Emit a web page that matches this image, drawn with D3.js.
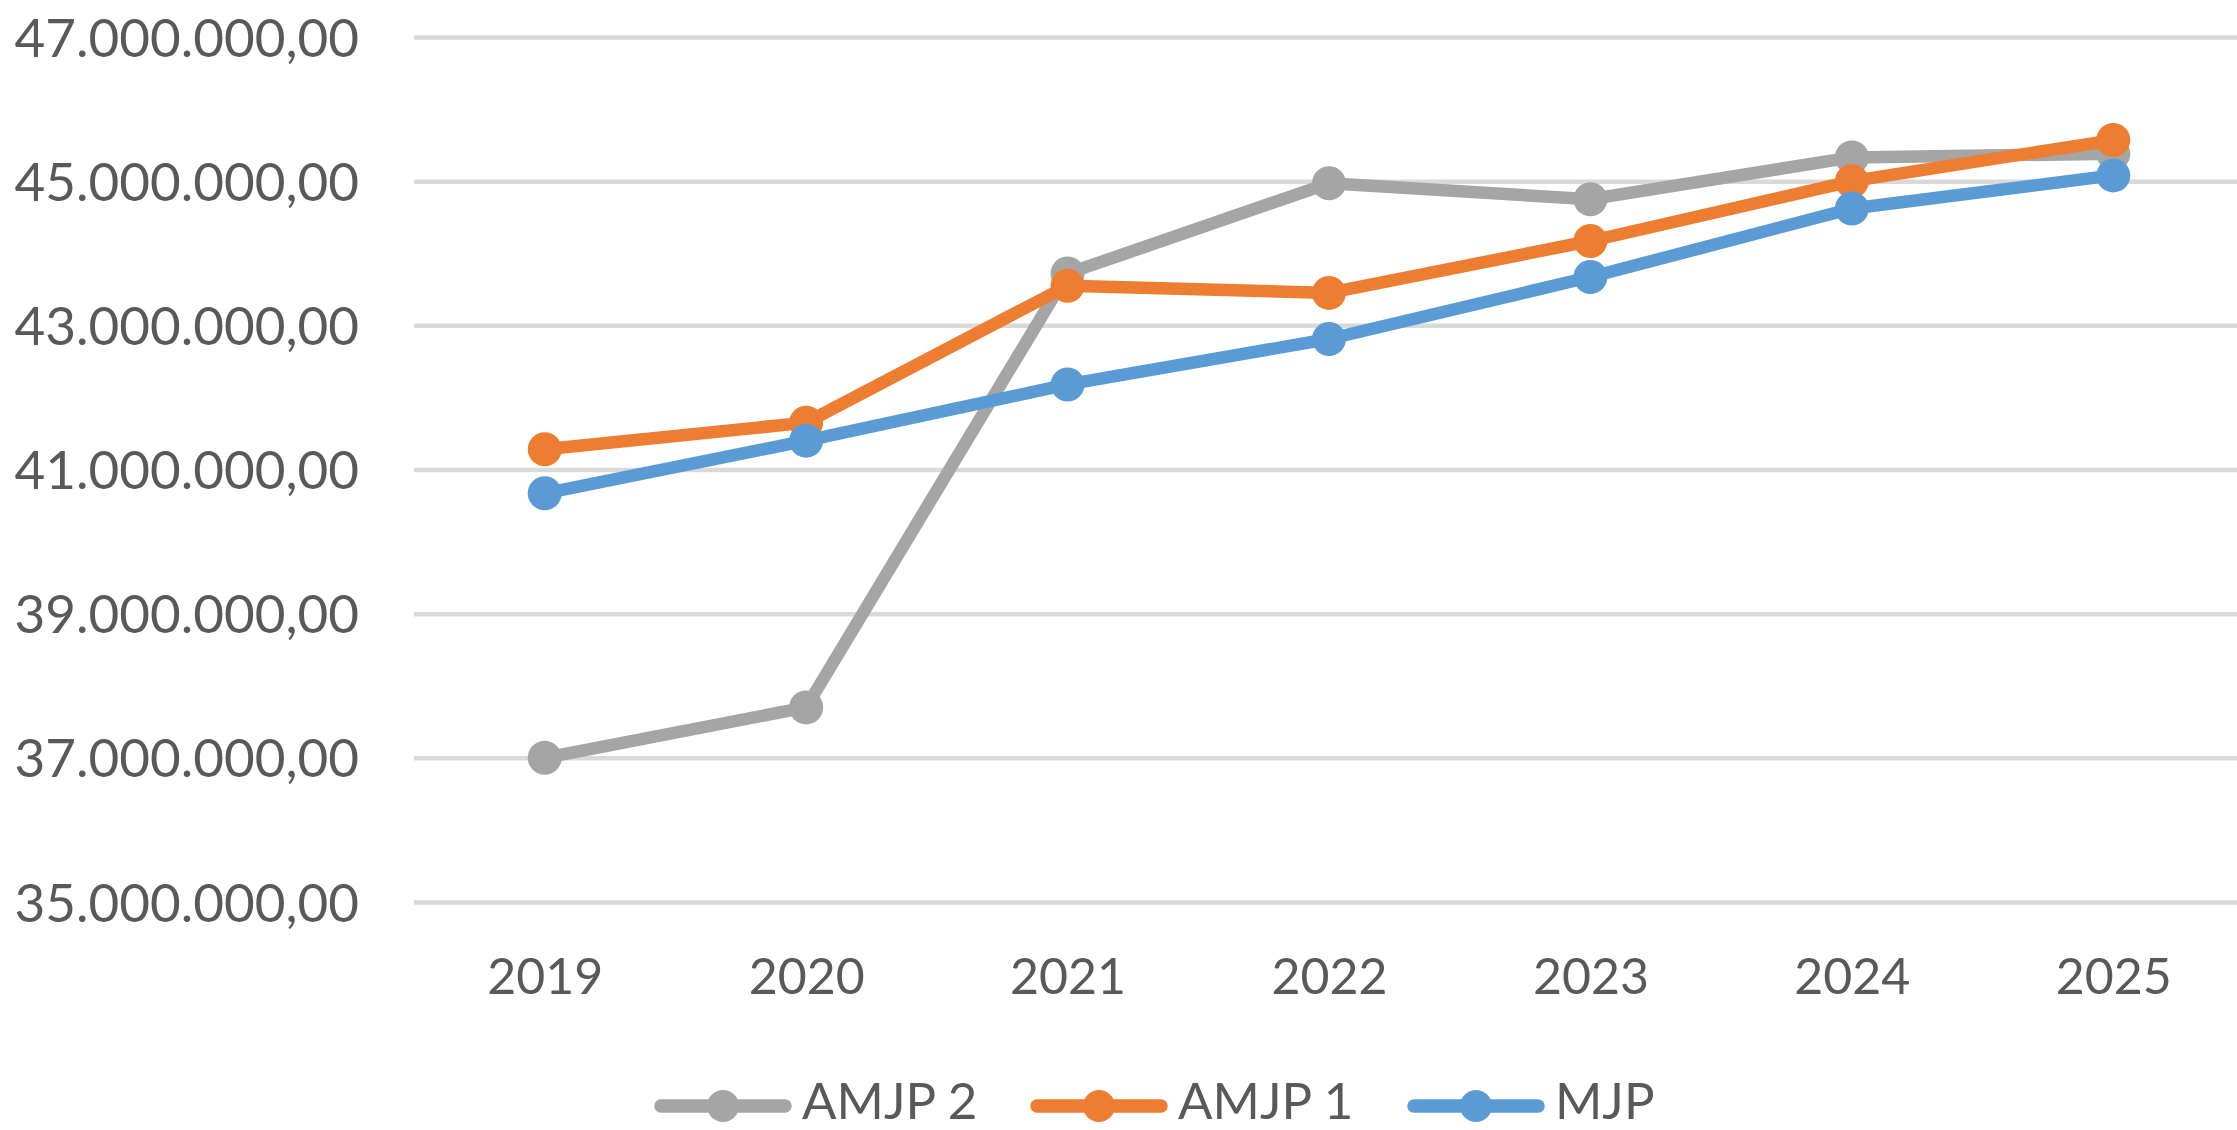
<!DOCTYPE html>
<html>
<head>
<meta charset="utf-8">
<script src="https://cdnjs.cloudflare.com/ajax/libs/d3/7.8.5/d3.min.js"></script>
<style>
  body { margin: 0; background: #fff; }
  .plot text { font-family: Lato, "Liberation Sans", sans-serif; fill: #595959; }
</style>
</head>
<body>
<div class="plot"></div>
<script>
// years on the x axis
var years = ["2019", "2020", "2021", "2022", "2023", "2024", "2025"];

// series values
var amjp2 = [37000000, 37700000, 43720000, 44970000, 44750000, 45330000, 45380000];
var amjp1 = [41280000, 41650000, 43550000, 43450000, 44170000, 45000000, 45570000];
var mjp   = [40670000, 41400000, 42180000, 42810000, 43670000, 44620000, 45080000];

var seriesNames  = ["AMJP 2", "AMJP 1", "MJP"];
var seriesColors = ["#A5A5A5", "#ED7D31", "#5B9BD5"];

var yTicks = [35000000, 37000000, 39000000, 41000000, 43000000, 45000000, 47000000];

var width = 2237,
    height = 1130,
    margin = {top: 37, right: -7, bottom: 228, left: 414};

var svg = d3.select(".plot")
  .append("svg")
  .attr("width", width)
  .attr("height", height);

var locale = d3.formatLocale({decimal: ",", thousands: ".", grouping: [3], currency: ["", ""]});
var fmt = locale.format(",.2f");

var x = d3.scalePoint()
  .domain(years)
  .range([margin.left, width - margin.right])
  .padding(0.5);

var y = d3.scaleLinear()
  .domain([35000000, 47000000])
  .range([height - margin.bottom, margin.top]);

// gridlines + y labels
var yAxis = svg.append("g")
  .attr("class", "grid")
  .attr("transform", "translate(" + margin.left + ",0)")
  .call(d3.axisLeft(y)
    .tickValues(yTicks)
    .tickSize(-(width - margin.left))
    .tickPadding(55)
    .tickFormat(fmt));

yAxis.select(".domain").remove();
yAxis.selectAll(".tick line")
  .style("stroke", "#D9D9D9")
  .style("stroke-width", 4.5);
yAxis.selectAll(".tick text")
  .style("font-size", "53px")
  .attr("dy", "0.36em");

// x labels
var xAxis = svg.append("g")
  .attr("transform", "translate(0," + y(35000000) + ")")
  .call(d3.axisBottom(x).tickSize(0).tickPadding(56));
xAxis.select(".domain").remove();
xAxis.selectAll(".tick text")
  .style("font-size", "50px");

var series = [amjp2, amjp1, mjp].map(function(vals, i) {
  return {
    name: seriesNames[i],
    color: seriesColors[i],
    values: vals.map(function(v, j) { return {year: years[j], value: v}; })
  };
});

var line = d3.line()
  .x(function(d) { return x(d.year); })
  .y(function(d) { return y(d.value); });

var s = svg.selectAll(".series")
  .data(series)
  .enter().append("g")
  .attr("class", "series");

s.append("path")
  .attr("d", function(d) { return line(d.values); })
  .style("fill", "none")
  .style("stroke", function(d) { return d.color; })
  .style("stroke-width", 12.5)
  .style("stroke-linejoin", "round")
  .style("stroke-linecap", "round");

s.selectAll("circle")
  .data(function(d) { return d.values.map(function(v) { return {c: d.color, year: v.year, value: v.value}; }); })
  .enter().append("circle")
  .attr("cx", function(d) { return x(d.year); })
  .attr("cy", function(d) { return y(d.value); })
  .attr("r", 17)
  .style("fill", function(d) { return d.c; });

// legend
var legendX = [654, 1030, 1407];
var legend = svg.selectAll(".legend")
  .data(series)
  .enter().append("g")
  .attr("class", "legend")
  .attr("transform", function(d, i) { return "translate(" + legendX[i] + ",1106)"; });

legend.append("line")
  .attr("x1", 7).attr("x2", 131)
  .attr("y1", 0).attr("y2", 0)
  .style("stroke", function(d) { return d.color; })
  .style("stroke-width", 13.5)
  .style("stroke-linecap", "round");

legend.append("circle")
  .attr("cx", 69)
  .attr("r", 16)
  .style("fill", function(d) { return d.color; });

legend.append("text")
  .attr("x", 148)
  .attr("y", 13)
  .style("font-size", "51px")
  .text(function(d) { return d.name; });
</script>
</body>
</html>
